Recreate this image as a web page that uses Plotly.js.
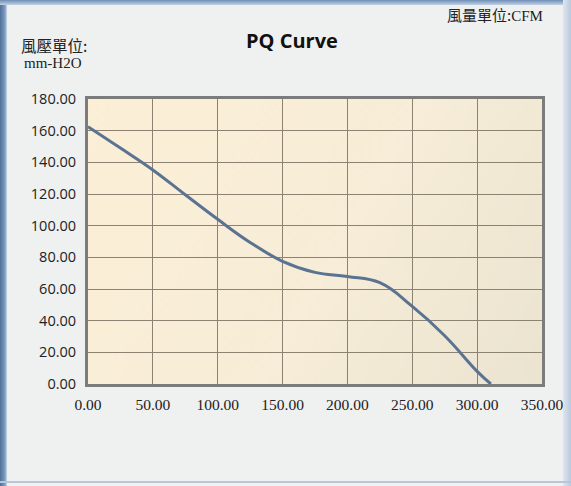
<!DOCTYPE html>
<html>
<head>
<meta charset="utf-8">
<script src="https://cdn.plot.ly/plotly-3.0.1.min.js"></script>
<style>
html,body{margin:0;padding:0;background:#eff0f0;}
#wrap{position:relative;width:571px;height:486px;overflow:hidden;}
#chart{position:absolute;left:0;top:0;width:571px;height:486px;}
.edge{position:absolute;pointer-events:none;}
</style>
</head>
<body>
<div id="wrap">
<div id="chart"></div>
<div class="edge" style="left:0;top:0;width:7px;height:486px;background:linear-gradient(to right,#4f6f98,#7f9cc0 70%,#c9d6e6);"></div>
<div class="edge" style="left:0;top:0;width:571px;height:5px;background:linear-gradient(to bottom,#6f8fb6,#c3d1e3);"></div>
<div class="edge" style="right:0;top:0;width:8px;height:486px;background:linear-gradient(to right,#dfe6f0,#b9c9de);"></div>
<div class="edge" style="left:0;top:481px;width:571px;height:2px;background:#b8c6dc;"></div>
</div>
<script>
var airflow = [0, 25, 50, 75, 100, 125, 150, 175, 200, 225, 250, 275, 300, 310.6];
var pressure = [162.5, 149, 135.2, 119.5, 104, 89.4, 77.5, 70.5, 67.9, 64, 49, 30.5, 8, 0];
var xTicks = [0, 50, 100, 150, 200, 250, 300, 350];
var yTicks = [0, 20, 40, 60, 80, 100, 120, 140, 160, 180];
var chartTitle = "PQ Curve";
var yUnitLine1 = "風壓單位:";
var yUnitLine2 = "mm-H2O";
var xUnitCJK = "風量單位:";
var xUnitLatin = "CFM";

// subtle background gradient for the plot area
var cv = document.createElement("canvas");
cv.width = 200; cv.height = 120;
var cx = cv.getContext("2d");
var g = cx.createLinearGradient(0, 0, 200, 120);
g.addColorStop(0, "#fcefd6");
g.addColorStop(0.55, "#f7edd8");
g.addColorStop(1, "#ebe4d0");
cx.fillStyle = g; cx.fillRect(0, 0, 200, 120);
var bgImg = cv.toDataURL("image/png");

var trace = {
  x: airflow, y: pressure, type: "scatter", mode: "lines",
  line: {color: "#5b7392", width: 3, shape: "spline", smoothing: 1.2},
  hoverinfo: "x+y"
};

var layout = {
  width: 571, height: 486,
  margin: {l: 88, r: 29, t: 99, b: 102},
  paper_bgcolor: "#eff0f0",
  plot_bgcolor: "#f7edd7",
  showlegend: false,
  images: [{source: bgImg, xref: "paper", yref: "paper", x: 0, y: 1, sizex: 1, sizey: 1,
            sizing: "stretch", xanchor: "left", yanchor: "top", layer: "below"}],
  xaxis: {
    range: [0, 350], tickvals: xTicks, tickformat: ".2f",
    showgrid: true, gridcolor: "#8c8271", gridwidth: 1,
    showline: true, linecolor: "#7c7c7c", linewidth: 3, mirror: true,
    zeroline: false, ticks: "", ticklen: 0, ticklabelstandoff: 4,
    tickfont: {family: "Liberation Serif, DejaVu Serif, serif", size: 15.5, color: "#222"},
    fixedrange: true
  },
  yaxis: {
    range: [0, 180], tickvals: yTicks, tickformat: ".2f",
    showgrid: true, gridcolor: "#8c8271", gridwidth: 1,
    showline: true, linecolor: "#7c7c7c", linewidth: 3, mirror: true,
    zeroline: false, ticks: "", ticklen: 0, ticklabelstandoff: 6,
    tickfont: {family: "Open Sans, DejaVu Sans, sans-serif", size: 14.5, color: "#222"},
    fixedrange: true
  },
  annotations: [
    {text: "<b>" + chartTitle + "</b>", xref: "paper", yref: "paper",
     x: (292 - 88) / 454, y: 1 + (99 - 40) / 285, xanchor: "center", yanchor: "middle",
     showarrow: false, font: {family: "Open Sans, DejaVu Sans, sans-serif", size: 20, color: "#111"}},
    {text: yUnitLine1, xref: "paper", yref: "paper",
     x: (54 - 88) / 454, y: 1 + (99 - 45) / 285, xanchor: "center", yanchor: "middle",
     showarrow: false, font: {family: "Noto Sans CJK TC, sans-serif", size: 15.5, color: "#222"}},
    {text: yUnitLine2, xref: "paper", yref: "paper",
     x: (53 - 88) / 454, y: 1 + (99 - 63) / 285, xanchor: "center", yanchor: "middle",
     showarrow: false, font: {family: "Liberation Serif, DejaVu Serif, serif", size: 15, color: "#222"}},
    {text: xUnitCJK + "<span style='font-family:Liberation Serif, serif'>" + xUnitLatin + "</span>",
     xref: "paper", yref: "paper",
     x: (545 - 88) / 454, y: 1 + (99 - 15) / 285, xanchor: "right", yanchor: "middle",
     showarrow: false, font: {family: "Noto Sans CJK TC, sans-serif", size: 15, color: "#222"}}
  ]
};

Plotly.newPlot("chart", [trace], layout, {displayModeBar: false, staticPlot: true});
</script>
</body>
</html>
